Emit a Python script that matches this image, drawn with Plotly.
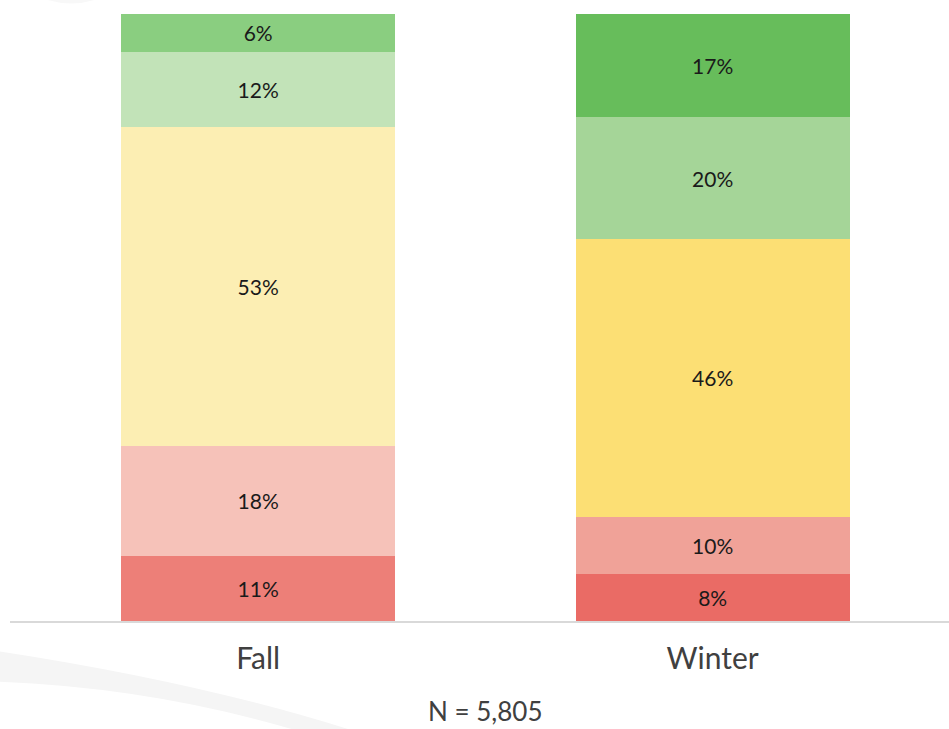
import plotly.graph_objects as go

categories = ["Fall", "Winter"]
levels = ["Level 1", "Level 2", "Level 3", "Level 4", "Level 5"]  # bottom to top

# segment shares (%), bottom to top
fall_values = [10.7, 18.2, 52.5, 12.4, 6.2]
winter_values = [7.8, 9.4, 45.7, 20.1, 17.0]

# printed labels
fall_labels = ["11%", "18%", "53%", "12%", "6%"]
winter_labels = ["8%", "10%", "46%", "20%", "17%"]

fall_colors = ["#ED7F78", "#F6C2B9", "#FCEEB3", "#C2E3B8", "#8ACE80"]
winter_colors = ["#EA6B65", "#F0A298", "#FCDF74", "#A5D598", "#67BD5B"]

note = "N = 5,805"

FONT = "Lato, Open Sans, sans-serif"

fig = go.Figure()
for i, lvl in enumerate(levels):
    fig.add_trace(go.Bar(
        name=lvl,
        x=categories,
        y=[fall_values[i], winter_values[i]],
        text=[fall_labels[i], winter_labels[i]],
        textposition="inside",
        insidetextanchor="middle",
        textangle=0,
        constraintext="none",
        textfont=dict(family=FONT, size=21, color="#1a1a1a"),
        marker=dict(color=[fall_colors[i], winter_colors[i]], line=dict(width=0)),
        hoverinfo="skip",
    ))

fig.update_layout(
    barmode="stack",
    bargap=0.397,
    width=949, height=729,
    margin=dict(l=10, r=0, t=14, b=108),
    paper_bgcolor="white",
    plot_bgcolor="white",
    showlegend=False,
    xaxis=dict(
        range=[-0.546, 1.52],
        showgrid=False, zeroline=False,
        showline=True, linecolor="#d9d9d9", linewidth=2,
        ticks="", tickfont=dict(family=FONT, size=30, color="#404040"),
        ticklabelstandoff=10,
    ),
    yaxis=dict(range=[0, 100], visible=False, showgrid=False, zeroline=False),
    annotations=[dict(
        text=note, xref="paper", yref="paper", x=0.506, y=-0.176,
        xanchor="center", yanchor="bottom", showarrow=False, borderpad=0,
        font=dict(family=FONT, size=26, color="#404040"),
    )],
    shapes=[
        dict(type="path", xref="paper", yref="paper", layer="below",
             path="M -0.011 1.07 Q 0.04 1.0 0.09 1.023 Q 0.05 1.05 -0.011 1.03 Z",
             fillcolor="#f8f8f8", line=dict(width=0)),
        dict(type="path", xref="paper", yref="paper", layer="below",
             path="M -0.011 -0.05 Q 0.2 -0.1 0.36 -0.178 L 0.3 -0.178 Q 0.15 -0.11 -0.011 -0.1 Z",
             fillcolor="#f5f5f5", line=dict(width=0)),
    ],
)

fig.write_html("out.html", config={"displayModeBar": False},
               post_script="document.body.style.margin='0';")
